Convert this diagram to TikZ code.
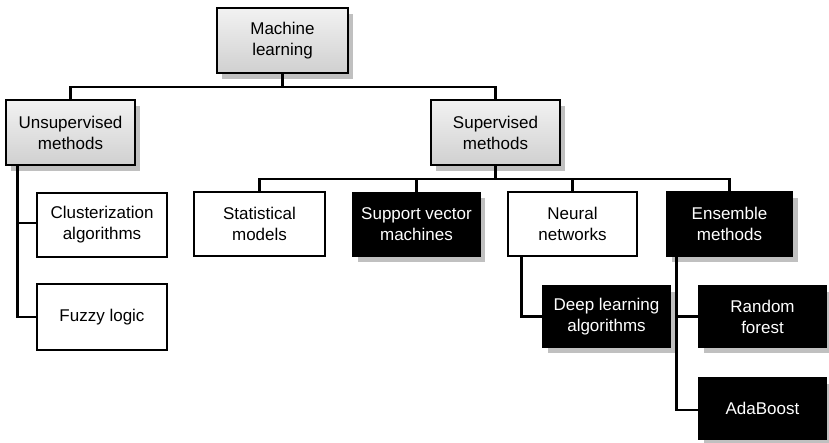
\documentclass[tikz,border=0pt]{standalone}
\usepackage{fontspec}
\setmainfont{Liberation Sans}
\usetikzlibrary{shadows}
\definecolor{shadowgray}{RGB}{192,192,192}
\definecolor{boxtop}{RGB}{242,242,242}
\definecolor{boxbot}{RGB}{208,208,208}
\tikzset{
  base/.style={rectangle, minimum width=129pt, minimum height=64pt, inner sep=0pt,
    align=center, font=\fontsize{17}{21}\selectfont, line width=1.6pt},
  graybox/.style={base, draw=black, top color=boxtop, bottom color=boxbot,
    drop shadow={shadow xshift=5pt, shadow yshift=-6pt, fill=shadowgray, opacity=1}},
  whitebox/.style={base, draw=black, fill=white},
  blackbox/.style={base, draw=black, fill=black, text=white,
    drop shadow={shadow xshift=5pt, shadow yshift=-6pt, fill=shadowgray, opacity=1}},
  conn/.style={line width=2.7pt, draw=black}
}
\begin{document}
\begin{tikzpicture}[x=1pt, y=-1pt]
\useasboundingbox[fill=white] (0,0) rectangle (829,443);
% nodes
\node[graybox, minimum width=131pt, minimum height=65pt] (ml) at (282.5,40.5) {Machine\\learning};
\node[graybox, minimum height=65pt] (unsup) at (70.5,132.5) {Unsupervised\\methods};
\node[graybox, minimum height=65pt] (sup) at (495.5,132.5) {Supervised\\methods};
\node[whitebox, minimum width=130pt] (clust) at (102,225) {Clusterization\\algorithms};
\node[whitebox, minimum width=130pt, minimum height=66pt] (fuzzy) at (102,317) {Fuzzy logic};
\node[whitebox, minimum width=131pt] (stat) at (259.5,224) {Statistical\\models};
\node[blackbox, minimum width=127pt] (svm) at (416.5,224.5) {Support vector\\machines};
\node[whitebox] (nn) at (572.5,224) {Neural\\networks};
\node[blackbox, minimum width=126pt] (ens) at (729.5,224) {Ensemble\\methods};
\node[blackbox, minimum width=127pt, minimum height=61pt] (deep) at (606.5,316.5) {Deep learning\\algorithms};
\node[blackbox, minimum width=127pt, minimum height=61pt] (rf) at (762.5,316.5) {Random\\forest};
\node[blackbox, minimum width=127pt, minimum height=61pt] (ada) at (762.5,408.5) {AdaBoost};
% junctions
\coordinate (j1) at (282.5,87);
\coordinate (j2) at (495.5,179);
% connectors
\draw[conn] (ml.south) -- (j1);
\draw[conn] (j1) -| (unsup.north);
\draw[conn] (j1) -| (sup.north);
\draw[conn] (sup.south) -- (j2);
\draw[conn] (j2) -| (stat.north);
\draw[conn] (j2) -| (svm.north);
\draw[conn] (j2) -| (nn.north);
\draw[conn] (j2) -| (ens.north);
\draw[conn] ([xshift=12pt]unsup.south west) |- ([yshift=2pt]clust.west);
\draw[conn] ([xshift=12pt]unsup.south west) |- (fuzzy.west);
\draw[conn] ([xshift=14pt]nn.south west) |- (deep.west);
\draw[conn] ([xshift=11pt]ens.south west) |- (rf.west);
\draw[conn] ([xshift=11pt]ens.south west) |- ([yshift=-1.5pt]ada.west);
\end{tikzpicture}
\end{document}
